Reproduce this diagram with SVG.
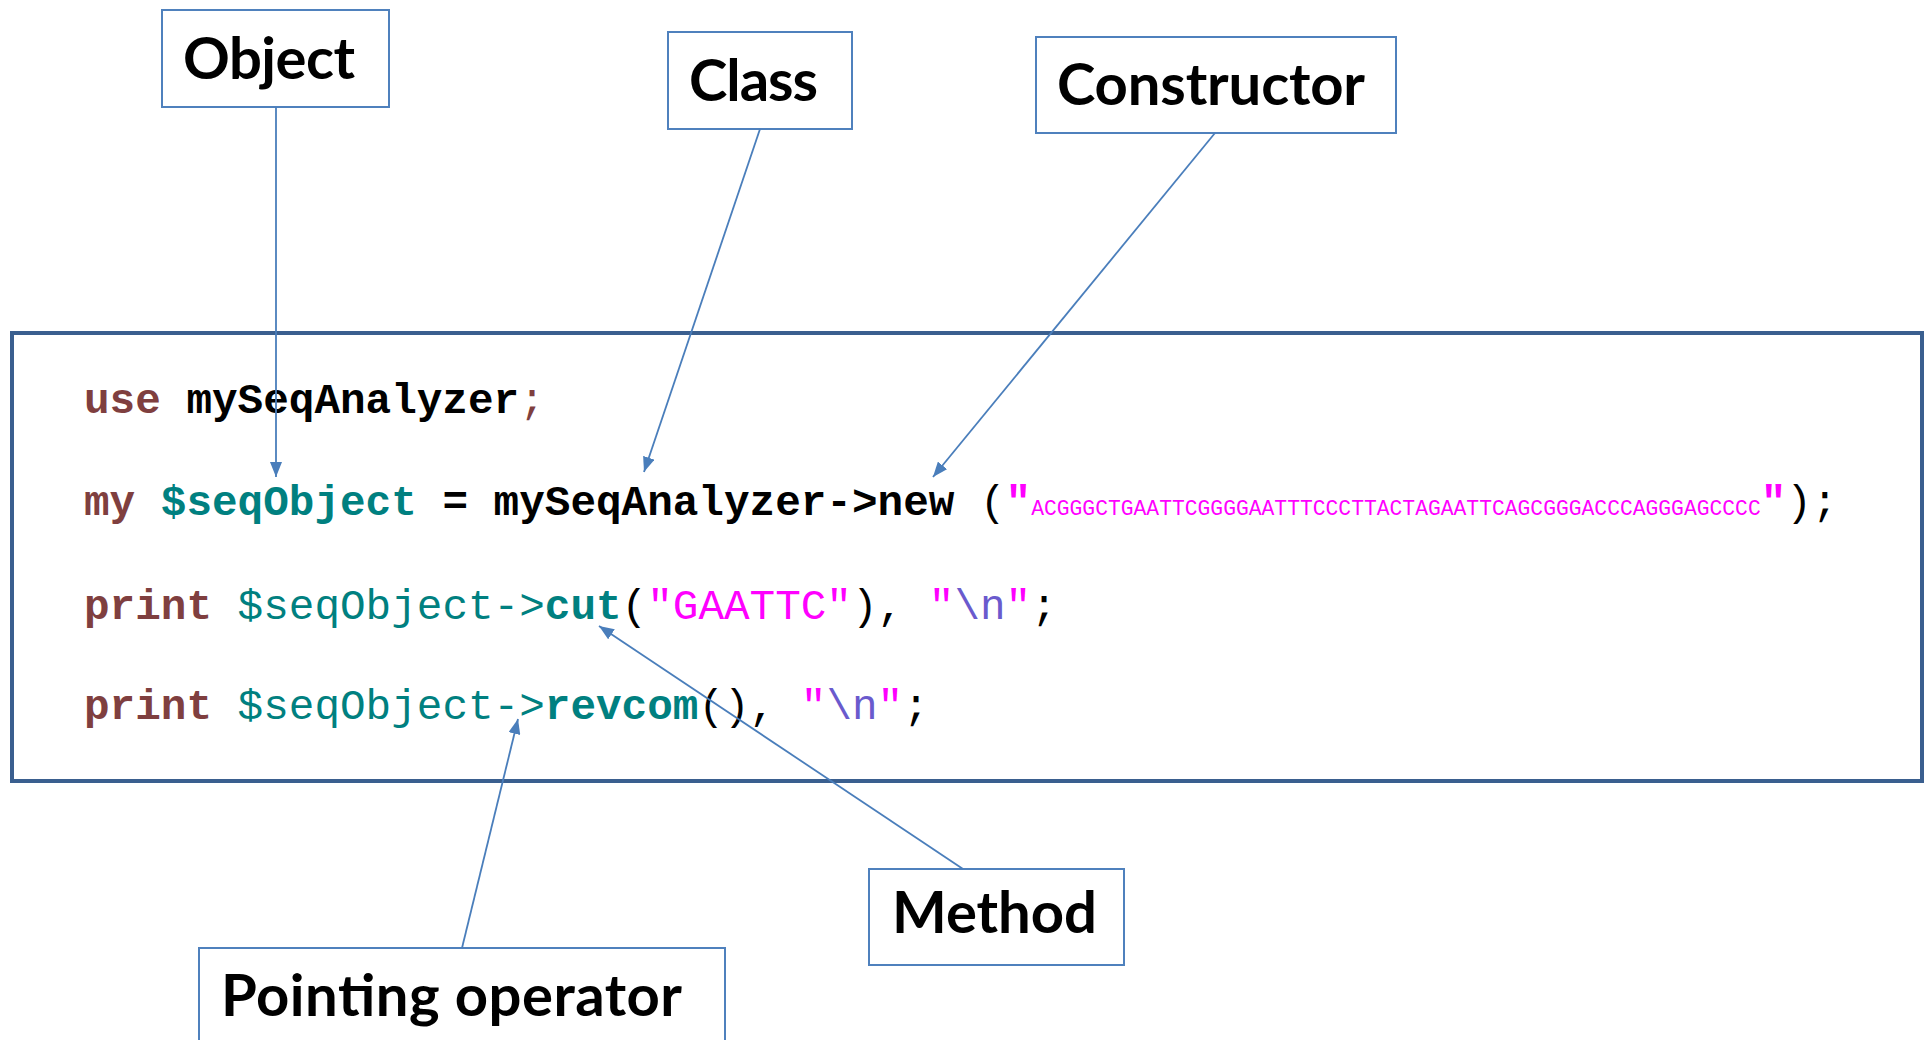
<svg xmlns="http://www.w3.org/2000/svg" width="1929" height="1040" viewBox="0 0 1929 1040">
  <style>
    .label-box { fill: #ffffff; stroke: #4f81bd; stroke-width: 2; }
    .label { font-family: Lato, "Liberation Sans", sans-serif; font-weight: 700; font-size: 58px; fill: #000000; }
    .frame { fill: #ffffff; stroke: #3a5f8f; stroke-width: 4; }
    .code { font-family: "Liberation Mono", "DejaVu Sans Mono", monospace; font-size: 42.67px; fill: #000000; white-space: pre; }
    .b { font-weight: 700; }
    .kw { fill: #7f3f3f; font-weight: 700; }
    .var { fill: #008080; }
    .str { fill: #ff00ff; }
    .esc { fill: #6a5acd; }
    .semi { fill: #7f3f3f; }
    .seq { fill: #ff00ff; font-size: 21.33px; font-weight: 400; }
    .conn { fill: none; stroke: #4a7ebb; stroke-width: 1.8; marker-end: url(#arrow); }
  </style>
  <defs>
    <marker id="arrow" markerUnits="userSpaceOnUse" markerWidth="16" markerHeight="12" refX="15" refY="6" orient="auto">
      <path d="M0,0 L15,6 L0,12 z" fill="#4a7ebb"/>
    </marker>
  </defs>

  <rect width="1929" height="1040" fill="#ffffff"/>

  <!-- code listing -->
  <g id="code">
    <rect class="frame" x="12" y="333" width="1910" height="448"/>
    <text class="code" x="84" y="413"><tspan class="kw">use</tspan><tspan class="b"> mySeqAnalyzer</tspan><tspan class="semi">;</tspan></text>
    <text class="code" x="84" y="515"><tspan class="kw">my</tspan> <tspan class="var b">$seqObject</tspan><tspan class="b"> = mySeqAnalyzer-&gt;new</tspan> (<tspan class="str b">"</tspan><tspan class="seq">ACGGGCTGAATTCGGGGAATTTCCCTTACTAGAATTCAGCGGGACCCAGGGAGCCCC</tspan><tspan class="str b">"</tspan>);</text>
    <text class="code" x="84" y="619"><tspan class="kw">print</tspan><tspan class="var"> $seqObject-&gt;</tspan><tspan class="var b">cut</tspan>(<tspan class="str">"GAATTC"</tspan>), <tspan class="str">"</tspan><tspan class="esc">\n</tspan><tspan class="str">"</tspan>;</text>
    <text class="code" x="84" y="719"><tspan class="kw">print</tspan><tspan class="var"> $seqObject-&gt;</tspan><tspan class="var b">revcom</tspan>(), <tspan class="str">"</tspan><tspan class="esc">\n</tspan><tspan class="str">"</tspan>;</text>
  </g>

  <!-- callout labels -->
  <g id="object">
    <rect class="label-box" x="162" y="10" width="227" height="97"/>
    <text class="label" x="183" y="79" textLength="172">Object</text>
  </g>
  <g id="class">
    <rect class="label-box" x="668" y="32" width="184" height="97"/>
    <text class="label" x="689" y="101" textLength="129">Class</text>
  </g>
  <g id="constructor">
    <rect class="label-box" x="1036" y="37" width="360" height="96"/>
    <text class="label" x="1057" y="105" textLength="308">Constructor</text>
  </g>
  <g id="method">
    <rect class="label-box" x="869" y="869" width="255" height="96"/>
    <text class="label" x="892" y="933" textLength="205">Method</text>
  </g>
  <g id="pointing-operator">
    <rect class="label-box" x="199" y="948" width="526" height="100"/>
    <text class="label" x="221" y="1016" textLength="461">Pointing operator</text>
  </g>

  <!-- connectors from labels to code -->
  <g id="connectors">
    <line class="conn" x1="276" y1="107" x2="276" y2="477"/>
    <line class="conn" x1="760" y1="129" x2="644" y2="472"/>
    <line class="conn" x1="1215" y1="133" x2="933" y2="477"/>
    <line class="conn" x1="963" y1="869" x2="599" y2="626"/>
    <line class="conn" x1="462" y1="948" x2="518" y2="719"/>
  </g>
</svg>
